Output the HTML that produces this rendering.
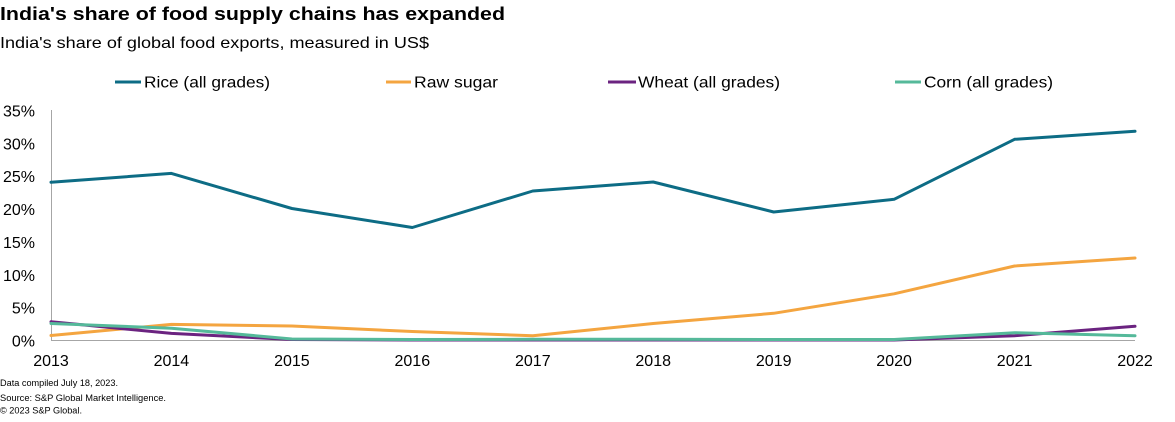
<!DOCTYPE html>
<html>
<head>
<meta charset="utf-8">
<style>
  html, body { margin:0; padding:0; background:#ffffff; }
  svg { display:block; }
  text { font-family: "Liberation Sans", Arial, sans-serif; fill:#000; }
</style>
</head>
<body>
<svg width="1175" height="422" viewBox="0 0 1175 422" xmlns="http://www.w3.org/2000/svg">
  <!-- Title -->
  <text x="0" y="20" font-size="18" font-weight="bold" textLength="505" lengthAdjust="spacingAndGlyphs">India's share of food supply chains has expanded</text>
  <text x="0" y="48" font-size="16" textLength="429" lengthAdjust="spacingAndGlyphs">India's share of global food exports, measured in US$</text>

  <!-- Legend -->
  <line x1="115" y1="82" x2="141" y2="82" stroke="#0d6c85" stroke-width="3"/>
  <text x="144" y="87.5" font-size="16" textLength="126" lengthAdjust="spacingAndGlyphs">Rice (all grades)</text>
  <line x1="386" y1="82" x2="411" y2="82" stroke="#f4a540" stroke-width="3"/>
  <text x="414" y="87.5" font-size="16" textLength="84" lengthAdjust="spacingAndGlyphs">Raw sugar</text>
  <line x1="608" y1="82" x2="636" y2="82" stroke="#6b2380" stroke-width="3"/>
  <text x="638" y="87.5" font-size="16" textLength="142" lengthAdjust="spacingAndGlyphs">Wheat (all grades)</text>
  <line x1="895" y1="82" x2="921" y2="82" stroke="#55b99a" stroke-width="3"/>
  <text x="924" y="87.5" font-size="16" textLength="129" lengthAdjust="spacingAndGlyphs">Corn (all grades)</text>

  <!-- Y axis labels -->
  <g font-size="16" text-anchor="end">
    <text x="35" y="116.5">35%</text>
    <text x="35" y="149.4">30%</text>
    <text x="35" y="182.2">25%</text>
    <text x="35" y="215.1">20%</text>
    <text x="35" y="247.9">15%</text>
    <text x="35" y="280.8">10%</text>
    <text x="35" y="313.6">5%</text>
    <text x="35" y="346.5">0%</text>
  </g>

  <!-- Axes -->
  <line x1="51.5" y1="110" x2="51.5" y2="340.5" stroke="#a6a6a6" stroke-width="1"/>
  <line x1="51" y1="340.5" x2="1135" y2="340.5" stroke="#a6a6a6" stroke-width="1"/>

  <!-- X axis labels -->
  <g font-size="16" text-anchor="middle">
    <text x="51" y="366">2013</text>
    <text x="171.4" y="366">2014</text>
    <text x="291.9" y="366">2015</text>
    <text x="412.3" y="366">2016</text>
    <text x="532.8" y="366">2017</text>
    <text x="653.2" y="366">2018</text>
    <text x="773.7" y="366">2019</text>
    <text x="894.1" y="366">2020</text>
    <text x="1014.6" y="366">2021</text>
    <text x="1135" y="366">2022</text>
  </g>

  <!-- Series -->
  <g fill="none" stroke-width="3" stroke-linejoin="round" stroke-linecap="round">
    <polyline stroke="#0d6c85" points="51,182.3 171.4,173.4 291.9,208.5 412.3,227.5 532.8,191 653.2,182 773.7,212 894.1,199.3 1014.6,139.3 1135,131.3"/>
    <polyline stroke="#f4a540" points="51,335.5 171.4,324.4 291.9,326 412.3,331.5 532.8,335.7 653.2,323.5 773.7,313.3 894.1,293.8 1014.6,266 1135,258"/>
    <polyline stroke="#6b2380" points="51,321.7 171.4,333.4 291.9,339.5 412.3,340 532.8,340 653.2,340 773.7,340 894.1,340 1014.6,335.7 1135,326.3"/>
    <polyline stroke="#55b99a" points="51,323.5 171.4,328.2 291.9,339 412.3,339.5 532.8,339.3 653.2,339.3 773.7,339.5 894.1,339.5 1014.6,332.7 1135,335.7"/>
  </g>

  <!-- Footer -->
  <g font-size="9">
    <text x="0" y="386" textLength="118" lengthAdjust="spacingAndGlyphs">Data compiled July 18, 2023.</text>
    <text x="0" y="401" textLength="166" lengthAdjust="spacingAndGlyphs">Source: S&amp;P Global Market Intelligence.</text>
    <text x="0" y="413.5" textLength="82" lengthAdjust="spacingAndGlyphs">© 2023 S&amp;P Global.</text>
  </g>
</svg>
</body>
</html>
